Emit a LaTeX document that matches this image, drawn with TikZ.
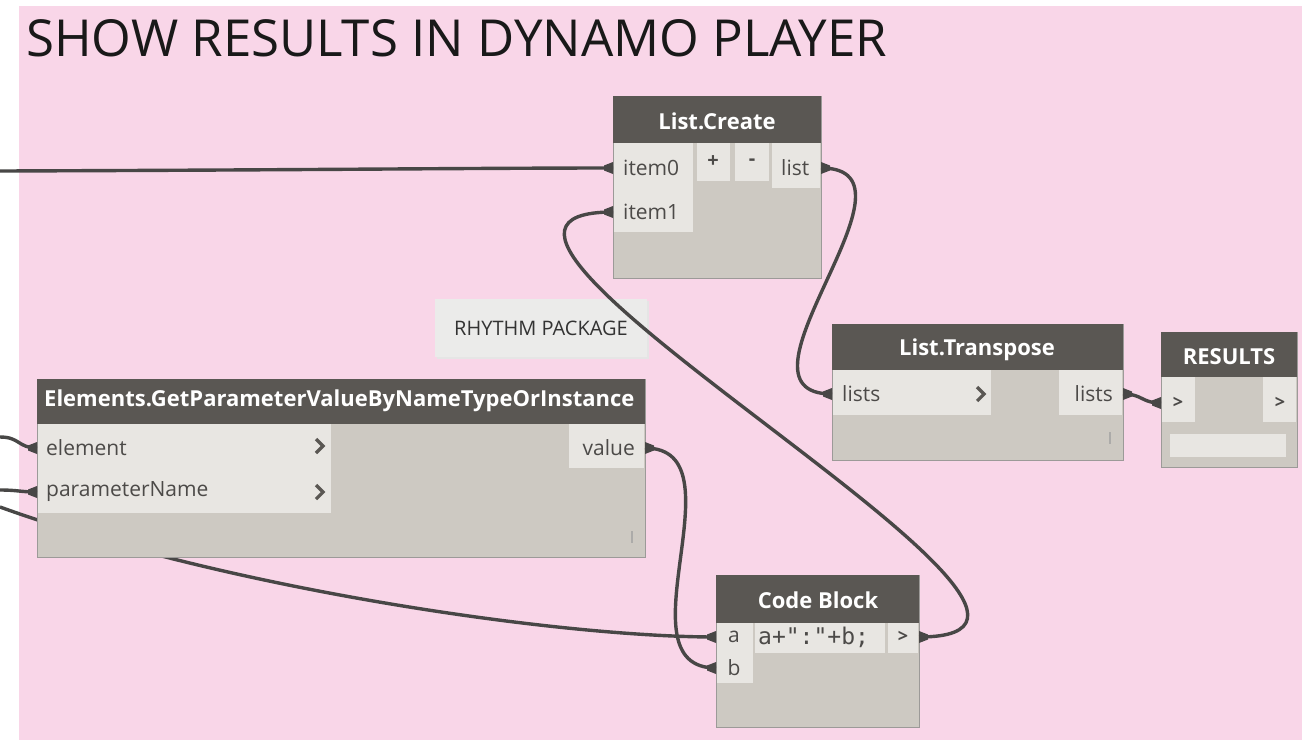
\documentclass[tikz,border=0pt]{standalone}
\usepackage{fontspec}
\setmainfont{Open Sans}
\newfontfamily\codefont{DejaVu Sans Mono}
\usetikzlibrary{calc}
\definecolor{bgpink}{HTML}{F9D6E8}
\definecolor{hdr}{HTML}{5A5753}
\definecolor{bodyc}{HTML}{CDC9C2}
\definecolor{lite}{HTML}{E8E6E2}
\definecolor{wirec}{HTML}{484746}
\definecolor{txt}{HTML}{4C4A48}
\definecolor{notec}{HTML}{EBEBEA}
\newcommand\chev[2]{\draw[chevst] ({#1-4},{#2-7}) -- ({#1+3},{#2}) -- ({#1-4},{#2+7});}
\newcommand\portin[1]{\fill[wirec] ($(#1)+(-9,-2.5)$) -- ($(#1)+(0,-6)$) -- ($(#1)+(0,6)$) -- ($(#1)+(-9,2.5)$) -- cycle;}
\newcommand\portout[1]{\fill[wirec] ($(#1)+(9,-2.5)$) -- ($(#1)+(0,-6)$) -- ($(#1)+(0,6)$) -- ($(#1)+(9,2.5)$) -- cycle;}
\begin{document}
\begin{tikzpicture}[x=1pt,y=-1pt,
  nbody/.style={draw=hdr!60, line width=1pt, fill=bodyc, anchor=north west, inner sep=0, outer sep=0},
  nhead/.style={fill=hdr, anchor=north west, inner sep=0, outer sep=0},
  htext/.style={text=white, font=\fontsize{22}{25}\selectfont\bfseries, inner sep=0},
  lbl/.style={text=txt, font=\fontsize{21}{24}\selectfont, inner sep=0},
  wire/.style={draw=wirec, line width=3.4pt},
  chevst/.style={draw=hdr, line width=3.2pt},
  tick/.style={draw=hdr!50, line width=1.2pt},
]
\useasboundingbox (0,0) rectangle (1302,740);
\fill[white] (0,0) rectangle (1302,740);
\fill[bgpink] (19,6) rectangle (1302,740);

\node[anchor=base west, inner sep=0, text=black!90, font=\fontsize{51}{60}\selectfont] (title) at (26,56) {SHOW RESULTS IN DYNAMO PLAYER};

% free wire ends
\coordinate (L1) at (0,171);
\coordinate (L2) at (0,437);
\coordinate (L3) at (0,490);
\coordinate (L4) at (0,507);

% ports
\coordinate (lc-in0) at (613,168);
\coordinate (lc-in1) at (613,212);
\coordinate (lc-out) at (821,168);
\coordinate (lt-in) at (832,394);
\coordinate (lt-out) at (1123,394);
\coordinate (rs-in) at (1161,403);
\coordinate (el-in1) at (37,448);
\coordinate (el-in2) at (37,492);
\coordinate (el-out) at (645,448);
\coordinate (cb-ina) at (716,637);
\coordinate (cb-inb) at (716,668);
\coordinate (cb-out) at (919,637);

% wire passing behind the Elements node
\draw[wire] (L4) .. controls (230,590) and (560,637) .. (cb-ina);

% ---------- List.Create ----------
\node[nbody, minimum width=208, minimum height=182] (lc) at (613,96) {};
\node[nhead, minimum width=208, minimum height=47] (lch) at (613,96) {};
\node[htext] (lct) at (717,121) {List.Create};
\fill[lite] (614,143) rectangle (693,232);
\fill[lite] (697,143) rectangle (730,181);
\fill[lite] (735,143) rectangle (769,181);
\fill[lite] (772,143) rectangle (820,188);
\node[lbl, anchor=west] (item0) at (623,168) {item0};
\node[lbl, anchor=west] (item1) at (623,212) {item1};
\node[lbl, font=\fontsize{20}{22}\selectfont\bfseries] (plus) at (713,162) {+};
\node[lbl, font=\fontsize{20}{22}\selectfont\bfseries] (minus) at (752,162) {-};
\node[lbl, anchor=west] (listo) at (781,168) {list};

% ---------- List.Transpose ----------
\node[nbody, minimum width=291, minimum height=136] (lt) at (832,324) {};
\node[nhead, minimum width=291, minimum height=46] (lth) at (832,324) {};
\node[htext] (ltt) at (977,350) {List.Transpose};
\fill[lite] (833,370) rectangle (991,415);
\fill[lite] (1059,370) rectangle (1122,415);
\node[lbl, anchor=west] (ltin) at (842,394) {lists};
\node[lbl, anchor=east] (ltout) at (1113,394) {lists};
\chev{981}{394}
\draw[tick] (1110,432) -- (1110,444);

% ---------- RESULTS ----------
\node[nbody, minimum width=136, minimum height=135] (rs) at (1161,332) {};
\node[nhead, minimum width=136, minimum height=45] (rsh) at (1161,332) {};
\node[htext] (rst) at (1229,357) {RESULTS};
\fill[lite] (1162,377) rectangle (1195,422);
\fill[lite] (1263,377) rectangle (1296,422);
\fill[lite] (1170,434) rectangle (1286,457);
\node[lbl, font=\fontsize{18}{20}\selectfont\bfseries] (rsin) at (1178,403) {>};
\node[lbl, font=\fontsize{18}{20}\selectfont\bfseries] (rsout) at (1280,403) {>};

% ---------- Elements.GetParameterValueByNameTypeOrInstance ----------
\node[nbody, minimum width=608, minimum height=178] (el) at (37,379) {};
\node[nhead, minimum width=608, minimum height=45] (elh) at (37,379) {};
\node[htext, anchor=west, font=\fontsize{22}{25}\selectfont\bfseries] (elt) at (44,401) {Elements.GetParameterValueByNameTypeOrInstance};
\fill[lite] (38,424) rectangle (331,513);
\fill[lite] (569,424) rectangle (644,468);
\node[lbl, anchor=west] (element) at (46,448) {element};
\node[lbl, anchor=west] (pname) at (46,492) {parameterName};
\node[lbl, anchor=east] (value) at (635,448) {value};
\chev{320}{446}
\chev{320}{492}
\draw[tick] (632,531) -- (632,543);

% ---------- Code Block ----------
\node[nbody, minimum width=203, minimum height=152] (cb) at (716,575) {};
\node[nhead, minimum width=203, minimum height=48] (cbh) at (716,575) {};
\node[htext] (cbt) at (818,600) {Code Block};
\fill[lite] (717,623) rectangle (753,683);
\fill[lite] (755,623) rectangle (885,653);
\fill[lite] (888,623) rectangle (918,653);
\node[lbl] (ca) at (734,637) {a};
\node[lbl] (cbb) at (734,668) {b};
\node[lbl, anchor=west, font=\fontsize{23}{26}\selectfont\codefont] (code) at (758,637) {a+":"+b;};
\node[lbl, font=\fontsize{18}{20}\selectfont\bfseries] (cbo) at (903,637) {>};

% ---------- note ----------
\fill[black!10] (437,301) rectangle (649,359);
\node[fill=notec, anchor=north west, minimum width=212, minimum height=58, inner sep=0] (note) at (435,299) {};
\node[lbl, text=black!80, font=\fontsize{20}{22}\selectfont] (notet) at (541,328) {RHYTHM PACKAGE};

% ---------- wires ----------
\draw[wire] (L1) .. controls (300,170) and (480,168) .. (lc-in0);
\draw[wire] (cb-out) .. controls (1169,637) and (363,212) .. (lc-in1);
\draw[wire] (lc-out) .. controls (936,168) and (717,394) .. (lt-in);
\draw[wire] (lt-out) .. controls (1143,394) and (1141,403) .. (rs-in);
\draw[wire] (el-out) .. controls (745,448) and (616,668) .. (cb-inb);
\draw[wire] (L2) .. controls (20,437) and (18,448) .. (el-in1);
\draw[wire] (L3) .. controls (18,490) and (20,492) .. (el-in2);

\portin{lc-in0}\portin{lc-in1}\portout{lc-out}
\portin{lt-in}\portout{lt-out}\portin{rs-in}
\portin{el-in1}\portin{el-in2}\portout{el-out}
\portin{cb-ina}\portin{cb-inb}\portout{cb-out}
\end{tikzpicture}
\end{document}
